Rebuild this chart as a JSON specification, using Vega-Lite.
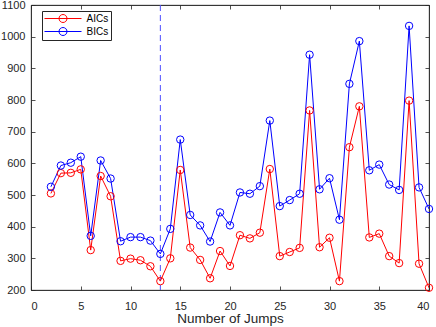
{
  "$schema": "https://vega.github.io/schema/vega-lite/v6.json",
  "autosize": "none",
  "width": 398,
  "height": 285,
  "padding": {"left": 31, "top": 5, "right": 7, "bottom": 37},
  "background": "white",
  "config": {
    "font": "Liberation Sans",
    "view": {"stroke": "#262626", "strokeWidth": 0.8},
    "axis": {"grid": false, "domainColor": "#262626", "tickColor": "#262626", "labelColor": "#262626", "titleColor": "#262626", "labelFontSize": 11, "titleFontSize": 13.5, "titleFontWeight": "normal", "tickSize": -4, "domainWidth": 0.8, "tickWidth": 0.8, "labelPadding": 4}
  },
  "datasets": {
    "ic": [
      {"jumps": 2, "series": "AICs", "value": 505}, {"jumps": 2, "series": "BICs", "value": 526},
      {"jumps": 3, "series": "AICs", "value": 569}, {"jumps": 3, "series": "BICs", "value": 593},
      {"jumps": 4, "series": "AICs", "value": 570}, {"jumps": 4, "series": "BICs", "value": 602},
      {"jumps": 5, "series": "AICs", "value": 581}, {"jumps": 5, "series": "BICs", "value": 621},
      {"jumps": 6, "series": "AICs", "value": 326}, {"jumps": 6, "series": "BICs", "value": 371},
      {"jumps": 7, "series": "AICs", "value": 560}, {"jumps": 7, "series": "BICs", "value": 609},
      {"jumps": 8, "series": "AICs", "value": 496}, {"jumps": 8, "series": "BICs", "value": 552},
      {"jumps": 9, "series": "AICs", "value": 292}, {"jumps": 9, "series": "BICs", "value": 354},
      {"jumps": 10, "series": "AICs", "value": 299}, {"jumps": 10, "series": "BICs", "value": 367},
      {"jumps": 11, "series": "AICs", "value": 294}, {"jumps": 11, "series": "BICs", "value": 367},
      {"jumps": 12, "series": "AICs", "value": 275}, {"jumps": 12, "series": "BICs", "value": 356},
      {"jumps": 13, "series": "AICs", "value": 228}, {"jumps": 13, "series": "BICs", "value": 314},
      {"jumps": 14, "series": "AICs", "value": 300}, {"jumps": 14, "series": "BICs", "value": 393},
      {"jumps": 15, "series": "AICs", "value": 579}, {"jumps": 15, "series": "BICs", "value": 675},
      {"jumps": 16, "series": "AICs", "value": 334}, {"jumps": 16, "series": "BICs", "value": 437},
      {"jumps": 17, "series": "AICs", "value": 295}, {"jumps": 17, "series": "BICs", "value": 404},
      {"jumps": 18, "series": "AICs", "value": 237}, {"jumps": 18, "series": "BICs", "value": 353},
      {"jumps": 19, "series": "AICs", "value": 323}, {"jumps": 19, "series": "BICs", "value": 445},
      {"jumps": 20, "series": "AICs", "value": 276}, {"jumps": 20, "series": "BICs", "value": 404},
      {"jumps": 21, "series": "AICs", "value": 373}, {"jumps": 21, "series": "BICs", "value": 508},
      {"jumps": 22, "series": "AICs", "value": 363}, {"jumps": 22, "series": "BICs", "value": 504},
      {"jumps": 23, "series": "AICs", "value": 381}, {"jumps": 23, "series": "BICs", "value": 528},
      {"jumps": 24, "series": "AICs", "value": 582}, {"jumps": 24, "series": "BICs", "value": 735},
      {"jumps": 25, "series": "AICs", "value": 307}, {"jumps": 25, "series": "BICs", "value": 465},
      {"jumps": 26, "series": "AICs", "value": 320}, {"jumps": 26, "series": "BICs", "value": 484},
      {"jumps": 27, "series": "AICs", "value": 333}, {"jumps": 27, "series": "BICs", "value": 504},
      {"jumps": 28, "series": "AICs", "value": 767}, {"jumps": 28, "series": "BICs", "value": 943},
      {"jumps": 29, "series": "AICs", "value": 335}, {"jumps": 29, "series": "BICs", "value": 518},
      {"jumps": 30, "series": "AICs", "value": 365}, {"jumps": 30, "series": "BICs", "value": 553},
      {"jumps": 31, "series": "AICs", "value": 228}, {"jumps": 31, "series": "BICs", "value": 422},
      {"jumps": 32, "series": "AICs", "value": 651}, {"jumps": 32, "series": "BICs", "value": 851},
      {"jumps": 33, "series": "AICs", "value": 780}, {"jumps": 33, "series": "BICs", "value": 986},
      {"jumps": 34, "series": "AICs", "value": 366}, {"jumps": 34, "series": "BICs", "value": 578},
      {"jumps": 35, "series": "AICs", "value": 378}, {"jumps": 35, "series": "BICs", "value": 596},
      {"jumps": 36, "series": "AICs", "value": 307}, {"jumps": 36, "series": "BICs", "value": 533},
      {"jumps": 37, "series": "AICs", "value": 285}, {"jumps": 37, "series": "BICs", "value": 516},
      {"jumps": 38, "series": "AICs", "value": 798}, {"jumps": 38, "series": "BICs", "value": 1034},
      {"jumps": 39, "series": "AICs", "value": 283}, {"jumps": 39, "series": "BICs", "value": 524},
      {"jumps": 40, "series": "AICs", "value": 207}, {"jumps": 40, "series": "BICs", "value": 456}
    ],
    "cut": [{"jumps": 13}]
  },
  "resolve": {"axis": {"x": "independent", "y": "independent"}},
  "layer": [
    {
      "data": {"name": "cut"},
      "mark": {"type": "rule", "color": "#4d4dff", "strokeDash": [6, 4], "strokeWidth": 1},
      "encoding": {
        "x": {"field": "jumps", "type": "quantitative", "scale": {"domain": [0, 40], "nice": false}, "axis": null}
      }
    },
    {
      "data": {"name": "ic"},
      "mark": {"type": "line", "strokeWidth": 1, "point": {"filled": false, "size": 55, "strokeWidth": 1}},
      "encoding": {
        "x": {"field": "jumps", "type": "quantitative", "scale": {"domain": [0, 40], "nice": false},
              "axis": {"values": [0, 5, 10, 15, 20, 25, 30, 35, 40], "title": "Number of Jumps", "labelPadding": 14, "titlePadding": 0}},
        "y": {"field": "value", "type": "quantitative", "scale": {"domain": [200, 1100], "nice": false},
              "axis": {"values": [200, 300, 400, 500, 600, 700, 800, 900, 1000, 1100], "title": null, "format": "d", "labelPadding": 10}},
        "color": {"field": "series", "type": "nominal",
                   "scale": {"domain": ["AICs", "BICs"], "range": ["#ff0000", "#0000ff"]},
                   "legend": {"title": null, "orient": "none", "legendX": 11, "legendY": 6, "strokeColor": "#262626", "fillColor": "white",
                              "padding": 2, "labelFontSize": 10, "labelColor": "#000000", "rowPadding": 0,
                              "symbolType": "M-3.7,0H3.7M0.8,0A0.8,0.8,0,1,1,-0.8,0A0.8,0.8,0,1,1,0.8,0",
                              "symbolSize": 100, "symbolOffset": 13.5, "labelOffset": 18, "symbolStrokeWidth": 1, "symbolFillColor": "transparent"}}
      }
    },
    {
      "data": {"name": "ic"},
      "mark": {"type": "point", "opacity": 0},
      "encoding": {
        "x": {"field": "jumps", "type": "quantitative", "scale": {"domain": [0, 40], "nice": false},
              "axis": {"orient": "top", "values": [0, 5, 10, 15, 20, 25, 30, 35, 40], "labels": false, "title": null}},
        "y": {"field": "value", "type": "quantitative", "scale": {"domain": [200, 1100], "nice": false},
              "axis": {"orient": "right", "values": [200, 300, 400, 500, 600, 700, 800, 900, 1000, 1100], "labels": false, "title": null}}
      }
    }
  ]
}
